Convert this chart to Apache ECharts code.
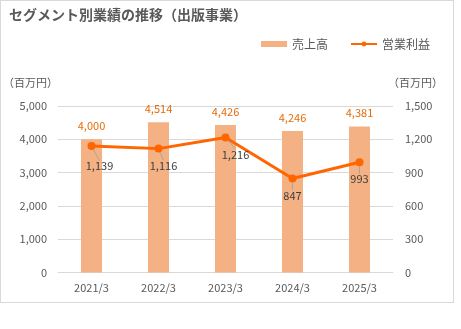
<!DOCTYPE html>
<html>
<head>
<meta charset="utf-8">
<script src="https://cdn.jsdelivr.net/npm/echarts@6/dist/echarts.min.js"></script>
<style>
  html, body { margin: 0; padding: 0; background: #fff; }
  #frame { position: absolute; left: 0; top: 0; width: 452px; height: 301px; border: 1px solid #d9d9d9; box-sizing: content-box; }
  #chart { position: absolute; left: 0; top: 0; width: 461px; height: 329px; }
</style>
</head>
<body>
<div id="frame"></div>
<div id="chart"></div>
<script>
// 出版事業の売上高・営業利益（百万円）
const categories = ['2021/3', '2022/3', '2023/3', '2024/3', '2025/3'];
const sales = [4000, 4514, 4426, 4246, 4381];
const operatingProfit = [1139, 1116, 1216, 847, 993];
// 営業利益ラベルの位置調整（点からのずれ）
const profitLabelShift = [[8, 20], [5, 17], [10, 17], [0, 17], [0, 17]];

const font = '"Noto Sans CJK JP", "Noto Sans", sans-serif';
const chart = echarts.init(document.getElementById('chart'), null, { renderer: 'canvas' });

chart.setOption({
  animation: false,
  textStyle: { fontFamily: font },
  title: {
    text: 'セグメント別業績の推移（出版事業）',
    left: 4, top: 3,
    textStyle: { fontSize: 14, fontWeight: 'bold', color: '#595959', fontFamily: font }
  },
  legend: {
    top: 33, right: 26,
    itemGap: 22,
    itemWidth: 26, itemHeight: 6,
    textStyle: { fontSize: 12, color: '#595959', fontFamily: font },
    data: [
      { name: '売上高', icon: 'rect' },
      { name: '営業利益' }
    ]
  },
  grid: { left: 54, right: 68, top: 106, bottom: 56.5, containLabel: false },
  xAxis: {
    type: 'category',
    data: categories,
    axisLine: { lineStyle: { color: '#d9d9d9' } },
    axisTick: { show: false },
    axisLabel: { color: '#595959', fontSize: 11, margin: 10 }
  },
  yAxis: [
    {
      type: 'value', min: 0, max: 5000, interval: 1000,
      name: '（百万円）', nameLocation: 'end', nameGap: 18,
      nameTextStyle: { color: '#595959', fontSize: 11, align: 'right', padding: [0, 0, 0, 0] },
      axisLine: { show: false }, axisTick: { show: false },
      axisLabel: { color: '#595959', fontSize: 11, margin: 11,
        formatter: v => v.toLocaleString('en-US') },
      splitLine: { lineStyle: { color: '#d9d9d9' } }
    },
    {
      type: 'value', min: 0, max: 1500, interval: 300,
      name: '（百万円）', nameLocation: 'end', nameGap: 18,
      nameTextStyle: { color: '#595959', fontSize: 11, align: 'center', padding: [0, 0, 0, 45] },
      axisLine: { show: false }, axisTick: { show: false },
      axisLabel: { color: '#595959', fontSize: 11, margin: 12,
        formatter: v => v.toLocaleString('en-US') },
      splitLine: { show: false }
    }
  ],
  series: [
    {
      name: '売上高', type: 'bar', yAxisIndex: 0,
      data: sales, barWidth: 21,
      itemStyle: { color: '#F4B183' },
      label: {
        show: true, position: 'top', distance: 8,
        color: '#E46C0A', fontSize: 11,
        formatter: p => p.value.toLocaleString('en-US')
      }
    },
    {
      name: '営業利益', type: 'line', yAxisIndex: 1,
      data: operatingProfit,
      symbol: 'circle', symbolSize: 8,
      lineStyle: { color: '#FF6600', width: 3 },
      itemStyle: { color: '#FF6600' },
      label: {
        show: true, position: 'inside',
        color: '#404040', fontSize: 11,
        formatter: p => p.value.toLocaleString('en-US')
      },
      labelLine: { show: true, lineStyle: { color: '#a6a6a6', width: 1 } },
      labelLayout: p => ({
        dx: profitLabelShift[p.dataIndex][0],
        dy: profitLabelShift[p.dataIndex][1]
      }),
      z: 3
    }
  ]
});
</script>
</body>
</html>
